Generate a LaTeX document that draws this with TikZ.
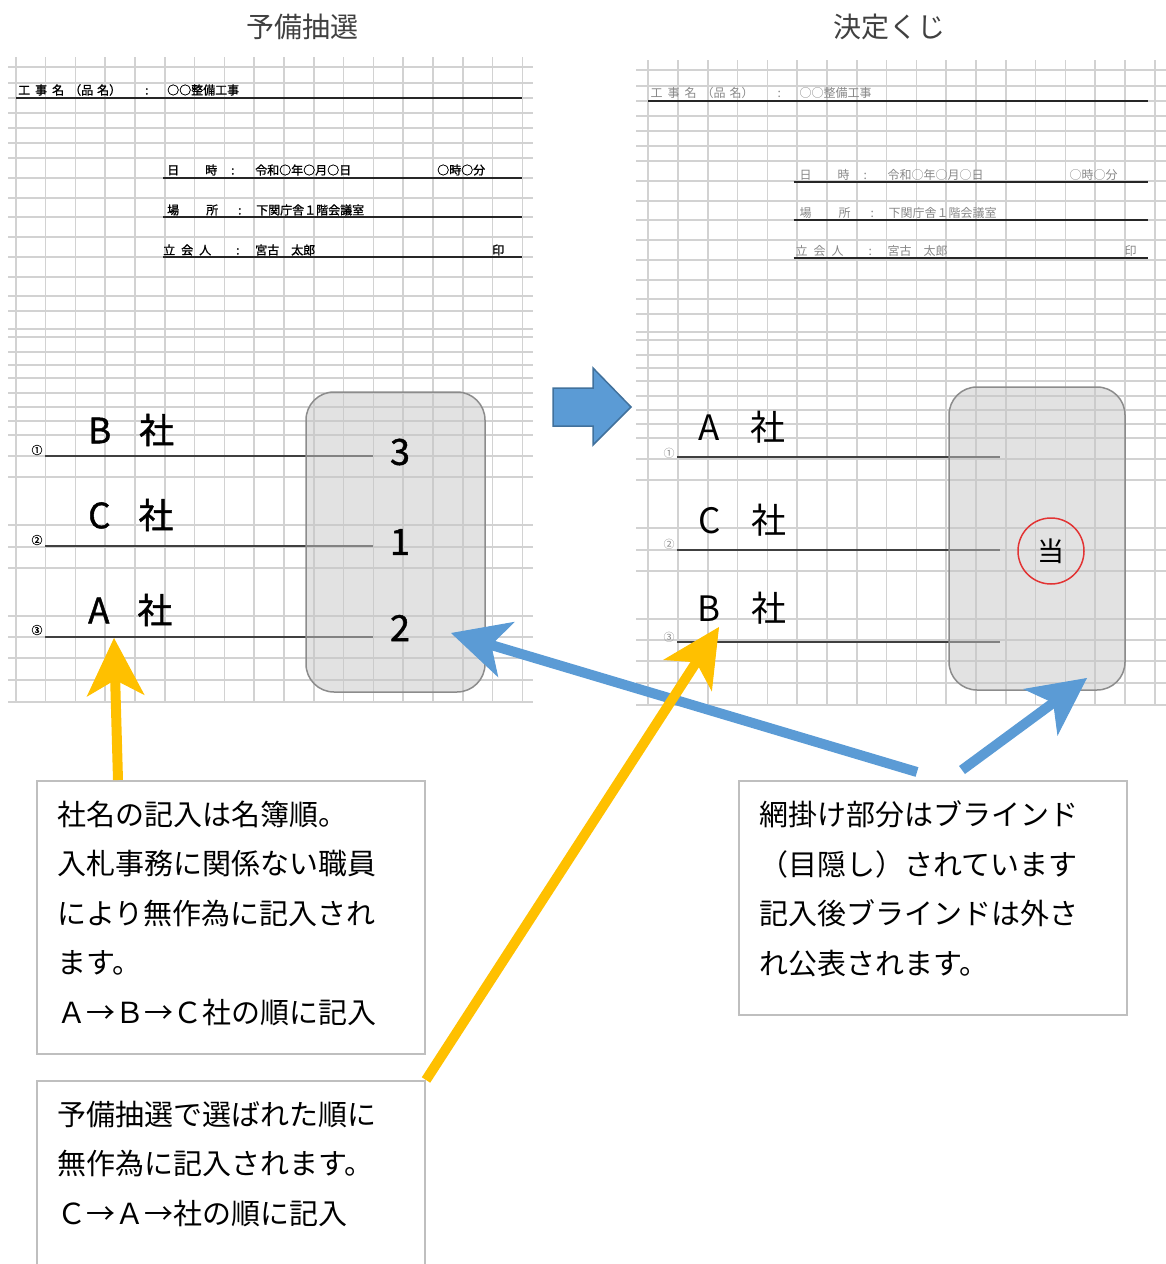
\documentclass[tikz,border=0pt]{standalone}
\usepackage{fontspec}
\setmainfont{Noto Sans CJK JP}
\newfontfamily\heavyjp[FakeBold=1.2]{Noto Sans CJK JP}
\usepackage{xcolor}
\usetikzlibrary{arrows.meta}
\usetikzlibrary{math}
\definecolor{myblue}{RGB}{91,155,213}
\definecolor{myblueedge}{RGB}{65,113,156}
\definecolor{myyellow}{RGB}{255,192,0}
\definecolor{mygrid}{RGB}{210,210,210}
\definecolor{mybox}{RGB}{191,191,191}
\definecolor{myblind}{RGB}{197,197,197}
\definecolor{myred}{RGB}{226,52,52}
\definecolor{mytitle}{RGB}{64,64,64}
\definecolor{myfaded}{RGB}{135,135,135}

\begin{document}
\begin{tikzpicture}[x=1pt,y=-1pt,
  gridline/.style={mygrid,line width=1.6pt},
  formline/.style={line width=2pt,black!85},
  rowline/.style={line width=1.8pt,black!75},
  sheettext/.style={inner sep=0pt,anchor=west,font=\fontsize{12}{14}\selectfont},
  sheetbold/.style={inner sep=0pt,anchor=west,font=\heavyjp\fontsize{12}{14}\selectfont},
  firmtext/.style={inner sep=0pt,anchor=west,font=\fontsize{35}{40}\selectfont},
  firmbold/.style={inner sep=0pt,anchor=west,font=\heavyjp\fontsize{35}{40}\selectfont},
  ranktext/.style={inner sep=0pt,font=\heavyjp\fontsize{36}{40}\selectfont},
  circnum/.style={inner sep=0pt,font=\fontsize{11}{12}\selectfont},
  blind/.style={rounded corners=28pt,fill=myblind,fill opacity=0.5,draw=black!45,line width=1.5pt},
  sheettitle/.style={inner sep=0pt,text=mytitle,font=\fontsize{28}{34}\selectfont},
  notebox/.style={draw=mybox,line width=2pt,anchor=north west,inner xsep=20pt,inner ysep=20pt,font=\fontsize{29}{49.5}\selectfont},
  bigarrow/.style={line width=10pt,-{Stealth[length=58pt,width=58pt,inset=16pt,line width=1pt]}},
]
\tikzmath{
\colw=29.8;
\colx=15.7;
\shx=632.5;
\shy=3;
}
\useasboundingbox (0,0) rectangle (1165,1264);

\node[sheettitle] (ltitle) at (302,27) {予備抽選};
\node[sheettitle] (rtitle) at (889,27) {決定くじ};

%%%%%%%%%%  left sheet (preliminary draw)
\begin{scope}
\foreach \gx in {0,...,17}
  \draw[gridline] (\colx+\colw*\gx,57) -- (\colx+\colw*\gx,702);
\foreach \gy in {67,83,98,113,128,143,158,178,198,217,237,257,277,296,311,329,337,352,365,378,393,407,421,435,456,477,525,547,568,616,637,658,680,702}
  \draw[gridline] (8,\gy) -- (533,\gy);

\node[sheetbold] (lhead1) at (18,90) {工\hspace{5pt}事\hspace{5pt}名\hspace{5pt}（品\hspace{4pt}名）\hspace{24pt}:};
\node[sheetbold] (lwork) at (167,90) {○○整備工事};
\node[sheetbold] (lhead2) at (167,170) {日\hspace{26pt}時\hspace{14pt}:};
\node[sheetbold] (ldate) at (255,170) {令和○年○月○日};
\node[sheetbold] (ltime) at (437,170) {○時○分};
\node[sheetbold] (lhead3) at (167,210) {場\hspace{27pt}所\hspace{20pt}:};
\node[sheetbold] (lplace) at (256,210) {下関庁舎１階会議室};
\node[sheetbold] (lhead4) at (163,250) {立\hspace{6pt}会\hspace{6pt}人\hspace{25pt}:};
\node[sheetbold] (lwitness) at (255,250) {宮古　太郎};
\node[sheetbold] (lseal) at (492,250) {印};
\draw[formline] (15.5,98) -- (522,98);
\draw[formline] (163,178) -- (522,178);
\draw[formline] (163,217) -- (522,217);
\draw[formline] (163,257) -- (522,257);

\draw[rowline] (45,456) -- (373,456);
\draw[rowline] (45,546) -- (373,546);
\draw[rowline] (45,637) -- (373,637);
\node[circnum] (lno1) at (37,450) {\heavyjp ①};
\node[circnum] (lno2) at (37,540) {\heavyjp ②};
\node[circnum] (lno3) at (37,630) {\heavyjp ③};
\node[firmbold] (lfirm1) at (88,430) {B\hspace{28pt}社};
\node[firmbold] (lfirm2) at (88,515) {C\hspace{28pt}社};
\node[firmbold] (lfirm3) at (88,610) {A\hspace{28pt}社};

\draw[blind] (306,392) rectangle (485,692);
\node[ranktext] (lrank1) at (400,452) {3};
\node[ranktext] (lrank2) at (400,542) {1};
\node[ranktext] (lrank3) at (400,628) {2};
\end{scope}

%%%%%%%%%%  right sheet (final draw)
\begin{scope}[shift={(\shx,\shy)}]
\foreach \gx in {0,...,17}
  \draw[gridline] (\colx+\colw*\gx,57) -- (\colx+\colw*\gx,702);
\foreach \gy in {67,83,98,113,128,143,158,178,198,217,237,257,277,296,311,329,337,352,365,378,393,407,421,435,456,477,525,547,568,616,637,658,680,702}
  \draw[gridline] (3.5,\gy) -- (533,\gy);

\begin{scope}[every node/.append style={text=myfaded}]
\node[sheettext] (rhead1) at (18,90) {工\hspace{5pt}事\hspace{5pt}名\hspace{5pt}（品\hspace{4pt}名）\hspace{24pt}:};
\node[sheettext] (rwork) at (167,90) {○○整備工事};
\node[sheettext] (rhead2) at (167,172) {日\hspace{26pt}時\hspace{14pt}:};
\node[sheettext] (rdate) at (255,172) {令和○年○月○日};
\node[sheettext] (rtime) at (437,172) {○時○分};
\node[sheettext] (rhead3) at (167,210) {場\hspace{27pt}所\hspace{20pt}:};
\node[sheettext] (rplace) at (256,210) {下関庁舎１階会議室};
\node[sheettext] (rhead4) at (163,248) {立\hspace{6pt}会\hspace{6pt}人\hspace{25pt}:};
\node[sheettext] (rwitness) at (255,248) {宮古　太郎};
\node[sheettext] (rseal) at (492,248) {印};
\node[circnum] (rno1) at (36.5,450) {①};
\node[circnum] (rno2) at (36.5,541) {②};
\node[circnum] (rno3) at (36.5,634) {③};
\end{scope}
\draw[formline] (15.5,98) -- (515,98);
\draw[formline] (161,179) -- (515,179);
\draw[formline] (161,217) -- (515,217);
\draw[formline] (161,255) -- (515,255);

\draw[rowline] (44.5,454) -- (367.5,454);
\draw[rowline] (44.5,547) -- (367.5,547);
\draw[rowline] (44.5,639) -- (367.5,639);
\node[firmtext] (rfirm1) at (65.5,424) {A\hspace{31pt}社};
\node[firmtext] (rfirm2) at (65.5,517) {C\hspace{31pt}社};
\node[firmtext] (rfirm3) at (64.5,605) {B\hspace{31pt}社};

\draw[blind] (316.5,384) rectangle (492.5,687);
\node[draw=myred,circle,line width=1.5pt,minimum size=66pt,inner sep=0pt,font=\fontsize{27}{30}\selectfont] (rstamp) at (418.5,548) {当};
\end{scope}

%%%%%%%%%%  block arrow between sheets
\filldraw[fill=myblue,draw=myblueedge,line width=1.5pt] (553,388) -- (593,388) -- (593,368) -- (631,407) -- (593,445) -- (593,426) -- (553,426) -- cycle;

%%%%%%%%%%  notes
\node[notebox] (note1) at (36,780) {\parbox[t][233pt][t]{348pt}{社名の記入は名簿順。\\入札事務に関係ない職員\\により無作為に記入され\\ます。\\Ａ→Ｂ→Ｃ社の順に記入}};
\node[notebox] (note2) at (738,780) {\parbox[t][194pt][t]{348pt}{網掛け部分はブラインド\\（目隠し）されています\\記入後ブラインドは外さ\\れ公表されます。}};
\node[notebox] (note3) at (36,1080) {\parbox[t][200pt][t]{348pt}{予備抽選で選ばれた順に\\無作為に記入されます。\\Ｃ→Ａ→社の順に記入}};

\coordinate (tipA) at (114,638);
\coordinate (tipB) at (719,627);
\coordinate (tipC) at (451,633);
\coordinate (tipD) at (1087,678);
\draw[bigarrow,myblue] ([xshift=179pt,yshift=8pt]note2.north west) -- (tipC);
\draw[bigarrow,myblue] ([xshift=224pt,yshift=10pt]note2.north west) -- (tipD);
\draw[bigarrow,myyellow] ([xshift=82pt]note1.north west) -- (tipA);
\draw[bigarrow,myyellow] (note3.north east) -- (tipB);
\end{tikzpicture}
\end{document}
